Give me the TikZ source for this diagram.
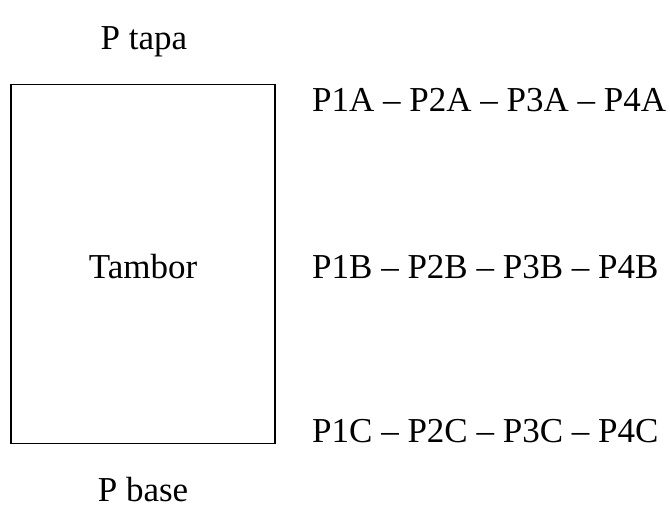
\documentclass[tikz,border=0pt]{standalone}
\usepackage{fontspec}
\setmainfont{Liberation Serif}
\begin{document}
\begin{tikzpicture}[x=1pt,y=-1pt,
  txt/.style={inner sep=0pt, font=\fontsize{35}{40}\selectfont},
  drumbox/.style={draw=black, line width=1.5pt, inner sep=0pt, minimum width=264pt, minimum height=359pt}]
\useasboundingbox (0,0) rectangle (670,510);
\node[drumbox] (drum) at (143,264) {};
\node[txt, anchor=base] (drumlabel) at (143,279) {Tambor};
\node[txt, anchor=base] (tapa) at (144,50) {P tapa};
\node[txt, anchor=base] (base) at (143,502) {P base};
\node[txt, anchor=base west] (rowA) at (312,112) {P1A – P2A – P3A – P4A};
\node[txt, anchor=base west] (rowB) at (312,279) {P1B – P2B – P3B – P4B};
\node[txt, anchor=base west] (rowC) at (312,443) {P1C – P2C – P3C – P4C};
\end{tikzpicture}
\end{document}
